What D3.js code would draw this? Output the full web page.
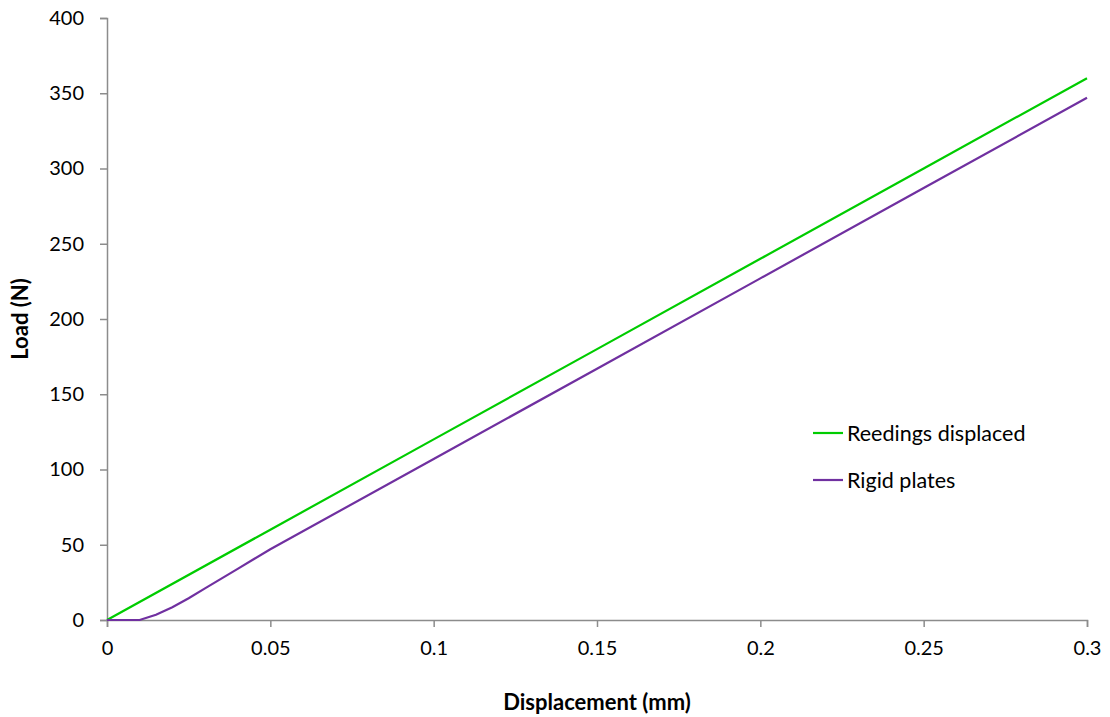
<!DOCTYPE html>
<html>
<head>
<meta charset="utf-8">
<script src="https://cdn.jsdelivr.net/npm/d3@7"></script>
<style>
  body { margin: 0; background: #fff; }
  svg text { font-family: Lato, "Open Sans", sans-serif; fill: #000; }
</style>
</head>
<body>
<div id="chart"></div>
<script>
// series data (displacement in mm, load in N)
var reedingsX = [0, 0.05, 0.1, 0.15, 0.2, 0.25, 0.3];
var reedingsY = [0, 60, 120, 180, 240, 300, 360];

var rigidX = [0, 0.01, 0.015, 0.02, 0.025, 0.03, 0.035, 0.04, 0.045, 0.05, 0.1, 0.15, 0.2, 0.25, 0.3];
var rigidY = [0, 0, 3.5, 8.5, 14.5, 21, 27.5, 34, 40.5, 47, 107, 167, 227, 287, 347];

var xTicks = [0, 0.05, 0.1, 0.15, 0.2, 0.25, 0.3];
var yTicks = [0, 50, 100, 150, 200, 250, 300, 350, 400];

var seriesNames = ["Reedings displaced", "Rigid plates"];
var seriesColors = ["#00cc00", "#7030a0"];

var width = 1110, height = 717;
var margin = {left: 107, right: 23, top: 18, bottom: 97};

var svg = d3.select("#chart").append("svg")
    .attr("width", width)
    .attr("height", height);

var x = d3.scaleLinear().domain([0, 0.3]).range([margin.left, width - margin.right]);
var y = d3.scaleLinear().domain([0, 400]).range([height - margin.bottom, margin.top]);

// axes
var xAxis = svg.append("g")
    .attr("transform", "translate(0," + y(0) + ")")
    .call(d3.axisBottom(x).tickValues(xTicks).tickSize(7).tickPadding(14)
        .tickFormat(function(d) { return d3.format("")(+d.toFixed(2)); }));

var yAxis = svg.append("g")
    .attr("transform", "translate(" + x(0) + ",0)")
    .call(d3.axisLeft(y).tickValues(yTicks).tickSize(7).tickPadding(16));

[xAxis, yAxis].forEach(function(a) {
  a.select(".domain").attr("stroke", "#8c8c8c").attr("stroke-width", 1.5);
  a.selectAll(".tick line").attr("stroke", "#8c8c8c").attr("stroke-width", 1.5);
  a.selectAll(".tick text").style("font-size", "20px").style("font-family", "Lato, 'Open Sans', sans-serif");
});

// axis titles
svg.append("text")
    .attr("x", (x(0) + x(0.3)) / 2)
    .attr("y", 710)
    .attr("text-anchor", "middle")
    .style("font-size", "22px")
    .style("font-weight", "bold")
    .text("Displacement  (mm)");

svg.append("text")
    .attr("transform", "translate(28," + ((y(0) + y(400)) / 2) + ") rotate(-90)")
    .attr("text-anchor", "middle")
    .style("font-size", "22px")
    .style("font-weight", "bold")
    .text("Load (N)");

// lines
var line = d3.line()
    .x(function(d) { return x(d[0]); })
    .y(function(d) { return y(d[1]); });

var series = [
  d3.zip(reedingsX, reedingsY),
  d3.zip(rigidX, rigidY)
];

svg.selectAll(".series")
    .data(series)
    .enter()
    .append("path")
    .attr("class", "series")
    .attr("fill", "none")
    .attr("stroke", function(d, i) { return seriesColors[i]; })
    .attr("stroke-width", 2.2)
    .attr("d", line);

// legend
var legend = svg.selectAll(".legend")
    .data(seriesNames)
    .enter()
    .append("g")
    .attr("class", "legend")
    .attr("transform", function(d, i) { return "translate(813," + (433 + i * 47) + ")"; });

legend.append("line")
    .attr("x1", 0).attr("x2", 30)
    .attr("stroke", function(d, i) { return seriesColors[i]; })
    .attr("stroke-width", 2.2);

legend.append("text")
    .attr("x", 34)
    .attr("dy", "0.35em")
    .style("font-size", "21.5px")
    .text(function(d) { return d; });
</script>
</body>
</html>
